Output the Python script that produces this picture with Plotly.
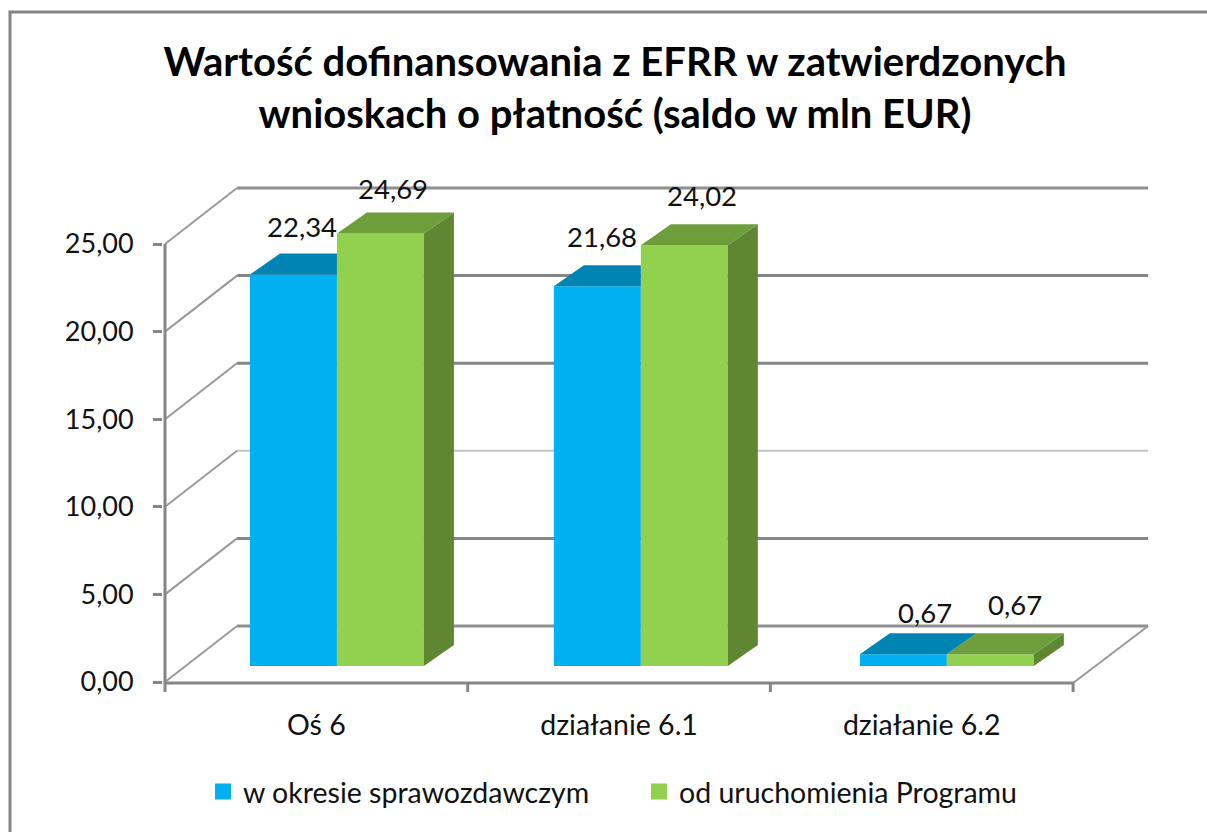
import plotly.graph_objects as go

categories = ["Oś 6", "działanie 6.1", "działanie 6.2"]
series_names = ["w okresie sprawozdawczym", "od uruchomienia Programu"]
values_period = [22.34, 21.68, 0.67]
values_total = [24.69, 24.02, 0.67]
y_ticks = [0, 5, 10, 15, 20, 25]
title_text = "Wartość dofinansowania z EFRR w zatwierdzonych<br>wnioskach o płatność (saldo w mln EUR)"

# scale and 3D look
W, H = 1207, 832
PX, PY = 302.7, 17.52          # pixels per category / per value unit
X0, Y0 = 165, 682              # pixel of the axis origin
L_PX, R_PX, T_PX, B_PX = 163, 1205, 140, 703
xr = [(L_PX - X0) / PX, (R_PX - X0) / PX]
yr = [(Y0 - B_PX) / PY, (Y0 - T_PX) / PY]
px = lambda n: n / PX
py = lambda n: n / PY

BAR_W = px(87)
BAR_BASE = py(16)
GROUP_CENTRE = [0.568, 1.572, 2.583]
TOP_DX, TOP_DY = px(30), py(21)
WALL_DX, WALL_DY = px(72), py(56)
FLOOR_END = 3 + px(75)

GRID = "#868686"
BLUE, GREEN = "#00B0F0", "#92D050"
BLUE_TOP, GREEN_TOP, GREEN_SIDE = "#0084B4", "#6E9D3C", "#5F8733"
FONT = "Lato"
TXT = "#111111"

left = [c - BAR_W for c in GROUP_CENTRE]
mid = list(GROUP_CENTRE)
right = [c + BAR_W for c in GROUP_CENTRE]


def poly(points_list):
    xs, ys = [], []
    for pts in points_list:
        xs += [p[0] for p in pts] + [pts[0][0], None]
        ys += [p[1] for p in pts] + [pts[0][1], None]
    return xs, ys


blue_tops, green_tops, green_sides = [], [], []
for i in range(3):
    ty = BAR_BASE + values_period[i]
    if values_total[i] > values_period[i]:
        blue_tops.append([(left[i], ty), (left[i] + TOP_DX, ty + TOP_DY), (mid[i], ty + TOP_DY), (mid[i], ty)])
    else:
        blue_tops.append([(left[i], ty), (left[i] + TOP_DX, ty + TOP_DY), (mid[i] + TOP_DX, ty + TOP_DY), (mid[i], ty)])
    gy = BAR_BASE + values_total[i]
    green_tops.append([(mid[i], gy), (mid[i] + TOP_DX, gy + TOP_DY), (right[i] + TOP_DX, gy + TOP_DY), (right[i], gy)])
    green_sides.append([(right[i], BAR_BASE), (right[i] + TOP_DX, BAR_BASE + TOP_DY),
                        (right[i] + TOP_DX, gy + TOP_DY), (right[i], gy)])

fig = go.Figure()
fig.add_bar(x=[c - BAR_W / 2 for c in GROUP_CENTRE], y=values_period, base=BAR_BASE, width=BAR_W,
            marker=dict(color=BLUE, line=dict(width=0)), showlegend=False, hoverinfo="skip")
fig.add_bar(x=[c + BAR_W / 2 for c in GROUP_CENTRE], y=values_total, base=BAR_BASE, width=BAR_W,
            marker=dict(color=GREEN, line=dict(width=0)), showlegend=False, hoverinfo="skip")
for pts, col in ((blue_tops, BLUE_TOP), (green_sides, GREEN_SIDE), (green_tops, GREEN_TOP)):
    xs, ys = poly(pts)
    fig.add_scatter(x=xs, y=ys, mode="lines", fill="toself", fillcolor=col, line=dict(width=0),
                    showlegend=False, hoverinfo="skip")
for name, col in zip(series_names, (BLUE, GREEN)):
    fig.add_scatter(x=[None], y=[None], mode="markers", name=name,
                    marker=dict(symbol="square", size=16, color=col))

# walls, floor, axes
shapes = []
line_style = {25: (3, "#8f8f8f"), 20: (3, "#868686"), 15: (3, "#868686"), 10: (2, "#c4c4c4"), 5: (3, "#868686"), 0: (3, "#8f8f8f")}
for v in y_ticks:
    w, c = line_style[v]
    shapes.append(dict(type="line", xref="x", yref="y", layer="below", x0=WALL_DX, x1=FLOOR_END,
                       y0=v + WALL_DY, y1=v + WALL_DY, line=dict(color=c, width=w)))
    shapes.append(dict(type="line", xref="x", yref="y", layer="below", x0=0, x1=WALL_DX,
                       y0=v, y1=v + WALL_DY, line=dict(color="#9a9a9a", width=2)))
shapes.append(dict(type="line", xref="x", yref="y", layer="below", x0=3, x1=FLOOR_END, y0=py(-1), y1=WALL_DY,
                   line=dict(color="#9a9a9a", width=2)))
shapes.append(dict(type="line", xref="x", yref="y", layer="below", x0=0, x1=3, y0=py(-1), y1=py(-1),
                   line=dict(color=GRID, width=3)))
shapes.append(dict(type="line", xref="x", yref="y", layer="below", x0=0, x1=0, y0=py(-10), y1=25,
                   line=dict(color=GRID, width=3)))
for k in (1, 2, 3):
    shapes.append(dict(type="line", xref="x", yref="y", layer="below", x0=k, x1=k, y0=py(-10), y1=0,
                       line=dict(color=GRID, width=3)))
# chart frame
fx = lambda p: (p - L_PX) / (R_PX - L_PX)
fy = lambda p: (B_PX - p) / (B_PX - T_PX)
shapes.append(dict(type="rect", xref="paper", yref="paper", layer="below", x0=fx(10), x1=fx(W + 10),
                   y0=fy(H + 10), y1=fy(12), line=dict(color="#848484", width=3), fillcolor="rgba(0,0,0,0)"))

# data labels
label_dx = [[9, 5, 22], [13, 18, 25]]
label_dy = [[48, 50, 42], [45, 50, 50]]
annots = []
for s, vals in enumerate((values_period, values_total)):
    for i, v in enumerate(vals):
        cx = GROUP_CENTRE[i] + (-BAR_W / 2 if s == 0 else BAR_W / 2)
        annots.append(dict(x=cx, y=BAR_BASE + v, xref="x", yref="y", text=f"{v:.2f}".replace(".", ","),
                           showarrow=False, xshift=label_dx[s][i], yshift=label_dy[s][i],
                           font=dict(family=FONT, size=27.5, color=TXT)))

fig.update_layout(
    width=W, height=H, autosize=False,
    margin=dict(l=L_PX, r=W - R_PX, t=T_PX, b=H - B_PX, pad=0),
    paper_bgcolor="white", plot_bgcolor="rgba(0,0,0,0)",
    separators=", ",
    barmode="overlay",
    title=dict(text=title_text, x=615 / W, xanchor="center", y=1 - 76 / H, yanchor="top",
               font=dict(family=FONT, size=40, color="#000000", weight="bold")),
    xaxis=dict(range=xr, tickmode="array", tickvals=[0.5, 1.5, 2.5], ticktext=categories, showgrid=False,
               zeroline=False, showline=False, ticks="", ticklabelstandoff=2,
               tickfont=dict(family=FONT, size=28.5, color=TXT)),
    yaxis=dict(range=yr, tickmode="array", tickvals=y_ticks, tickformat=".2f", showgrid=False, zeroline=False,
               showline=False, ticks="outside", ticklen=9, tickwidth=3, tickcolor=GRID, ticklabelstandoff=14,
               tickfont=dict(family=FONT, size=27, color=TXT)),
    legend=dict(orientation="h", x=fx(203), xanchor="left", y=fy(792), yanchor="middle",
                font=dict(family=FONT, size=28.5, color=TXT), bgcolor="rgba(0,0,0,0)", itemclick=False,
                itemdoubleclick=False, entrywidth=391, entrywidthmode="pixels"),
    shapes=shapes, annotations=annots, showlegend=True,
)

fig.write_html("out.html", config=dict(displayModeBar=False),
               post_script="document.body.style.margin='0';document.body.style.overflow='hidden';")
